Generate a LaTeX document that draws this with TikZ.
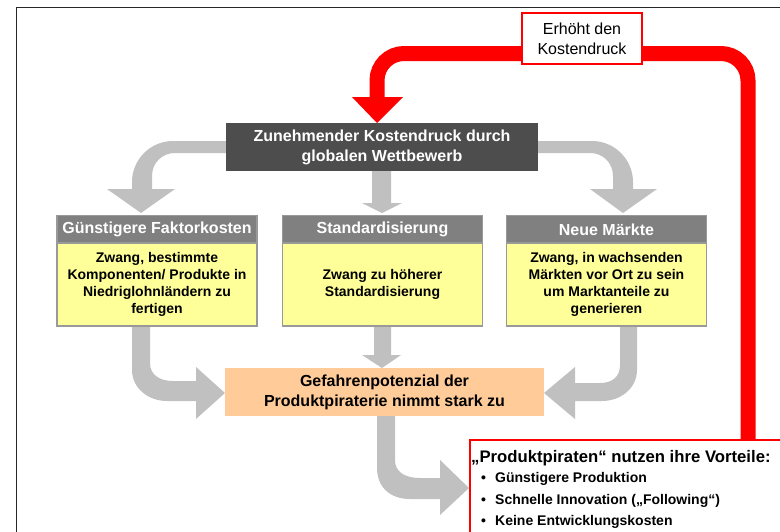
\documentclass[tikz,border=0pt]{standalone}
\usepackage{fontspec}
\setmainfont{Liberation Sans}
\definecolor{arrowgray}{HTML}{C0C0C0}
\definecolor{darkbox}{HTML}{4D4D4D}
\definecolor{headgray}{HTML}{808080}
\definecolor{bordergray}{HTML}{999999}
\definecolor{bodyyellow}{HTML}{FFFF99}
\definecolor{peach}{HTML}{FFCC99}
\definecolor{pured}{HTML}{FF0000}
\tikzset{
  grayarrow/.style={fill=arrowgray, draw=none},
  topbox/.style={fill=darkbox, text=white, font=\bfseries\fontsize{16}{20}\selectfont, align=center,
    minimum width=312pt, minimum height=48pt, inner sep=0pt},
  colhead/.style={fill=headgray, draw=bordergray, line width=1.2pt, text=white,
    font=\bfseries\fontsize{16}{20}\selectfont, minimum width=200pt, minimum height=28pt, inner sep=0pt},
  colbody/.style={fill=bodyyellow, draw=bordergray, line width=1.2pt, align=center,
    font=\bfseries\fontsize{14}{17}\selectfont, minimum width=200pt, minimum height=83pt, inner sep=0pt},
  dangerbox/.style={fill=peach, align=center, font=\bfseries\fontsize{16}{20}\selectfont,
    minimum width=319pt, minimum height=48pt, inner sep=0pt},
  labelbox/.style={fill=white, draw=pured, line width=2pt, align=center,
    font=\fontsize{16}{20}\selectfont, minimum width=120pt, minimum height=51pt, inner sep=0pt},
  piratebox/.style={fill=white, draw=pured, line width=2pt, minimum width=340pt, minimum height=130pt, inner sep=0pt},
  pirhead/.style={anchor=west, inner sep=0pt, font=\bfseries\fontsize{16.7}{20}\selectfont},
  pirbullet/.style={anchor=west, inner sep=0pt, font=\bfseries\fontsize{14}{17}\selectfont},
  redline/.style={draw=pured, line width=15pt, rounded corners=27pt},
  frameline/.style={draw=black!85, line width=1.3pt}
}
\begin{document}
\begin{tikzpicture}[x=1pt,y=-1pt]
\useasboundingbox (0,0) rectangle (780,531);
% frame
\draw[frameline] (16.5,540) -- (16.5,7.5) -- (790,7.5);

% gray arrows
\fill[grayarrow] (226,141) -- (173,141) .. controls (150.4,141) and (132,159.4) .. (132,182)
  -- (132,189) -- (107,189) -- (141,213) -- (175,189) -- (152,189) -- (152,176)
  .. controls (152,163) and (162,153) .. (175,153) -- (226,153) -- cycle;
\fill[grayarrow] (538,141) -- (592,141) .. controls (614.6,141) and (633,159.4) .. (633,182)
  -- (633,189) -- (657,189) -- (623,213) -- (590,189) -- (613,189) -- (613,176)
  .. controls (613,163) and (603,153) .. (590,153) -- (538,153) -- cycle;
\fill[grayarrow] (372,171) -- (372,203) -- (362,203) -- (382,213) -- (402,203) -- (391,203) -- (391,171) -- cycle;
\fill[grayarrow] (132,326) -- (132,370) .. controls (132,388) and (148,401) .. (167,401)
  -- (196,401) -- (196,419) -- (225,393) -- (196,367) -- (196,381) -- (173,381)
  .. controls (160,381) and (150,375) .. (150,363) -- (150,326) -- cycle;
\fill[grayarrow] (637,326) -- (637,370) .. controls (637,388) and (621,401) .. (602,401)
  -- (575,401) -- (575,419) -- (544,393) -- (575,367) -- (575,383) -- (600,383)
  .. controls (612,383) and (620,377) .. (620,365) -- (620,326) -- cycle;
\fill[grayarrow] (374,326) -- (374,355) -- (362,355) -- (382,368) -- (401,355) -- (391,355) -- (391,326) -- cycle;
\fill[grayarrow] (377,416) -- (377,468) .. controls (377,487) and (390,499) .. (410,499)
  -- (440,499) -- (440,515) -- (469,488) -- (440,460) -- (440,478) -- (420,478)
  .. controls (405,478) and (395,472) .. (395,460) -- (395,416) -- cycle;

% top box
\node[topbox] (top) at (382,147) {Zunehmender Kostendruck durch\\globalen Wettbewerb};

% columns
\node[colhead] (h1) at (157,229.5) {Günstigere Faktorkosten};
\node[colbody] (b1) at (157,284.5) {Zwang, bestimmte\\Komponenten/ Produkte in\\Niedriglohnländern zu\\fertigen};
\node[colhead] (h2) at (382.5,229.5) {Standardisierung};
\node[colbody] (b2) at (382.5,284.5) {Zwang zu höherer\\Standardisierung};
\node[colhead] (h3) at (606.5,229.5) {Neue Märkte};
\node[colbody] (b3) at (606.5,284.5) {Zwang, in wachsenden\\Märkten vor Ort zu sein\\um Marktanteile zu\\generieren};

% danger box
\node[dangerbox] (danger) at (384.5,392) {Gefahrenpotenzial der\\Produktpiraterie nimmt stark zu};

% pirates box
\node[piratebox, anchor=north west] (pirates) at (469,439) {};
\node[pirhead] (ph) at (471,458) {„Produktpiraten“ nutzen ihre Vorteile:};
\node[pirbullet] (pd1) at (481,479) {•};
\node[pirbullet] (p1) at (495,479) {Günstigere Produktion};
\node[pirbullet] (pd2) at (481,501) {•};
\node[pirbullet] (p2) at (495,501) {Schnelle Innovation („Following“)};
\node[pirbullet] (pd3) at (481,522) {•};
\node[pirbullet] (p3) at (495,522) {Keine Entwicklungskosten};

% red feedback
\coordinate (rs) at (748,440);
\coordinate (rhead) at (377,97);
\draw[redline] (rs) -- (748,53.5) -- (377,53.5) -- (rhead);
\fill[pured] (352,97) -- (403,97) -- (377,123) -- cycle;
\node[labelbox] (lab) at (582,38.5) {Erhöht den\\Kostendruck};
\end{tikzpicture}
\end{document}
